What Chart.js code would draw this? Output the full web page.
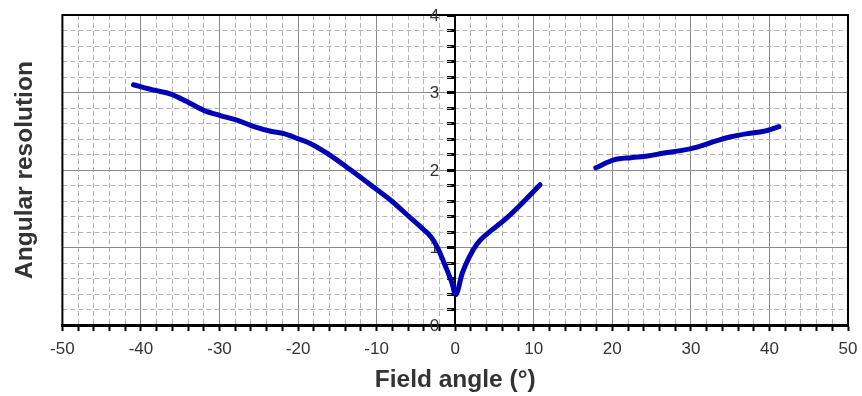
<!DOCTYPE html>
<html>
<head>
<meta charset="utf-8">
<script src="https://cdn.jsdelivr.net/npm/chart.js@4.4.1/dist/chart.umd.min.js"></script>
<style>
  html, body { margin: 0; padding: 0; background: #ffffff; }
  #wrap { width: 862px; height: 396px; position: relative; }
</style>
</head>
<body>
<div id="wrap"><canvas id="c" width="862" height="396"></canvas></div>
<script>
// ---- data ----
const fieldAngle = [-40.95, -38.3, -36.2, -34.1, -32.0, -29.8, -27.7, -25.6, -23.5, -21.8, -19.9, -18.4, -15.9, -13.3, -10.8, -8.2, -6.1, -4.0, -3.1, -2.3, -1.2, -0.4, 0.05, 0.9, 1.8, 2.8, 4.1, 6.2, 8.3, 10.8, 14.0, 17.9, 20.2, 22.4, 24.5, 26.6, 28.7, 30.9, 33.0, 35.1, 37.2, 39.3, 41.2];
const angularResolution = [3.10, 3.03, 2.98, 2.88, 2.77, 2.70, 2.64, 2.56, 2.50, 2.47, 2.40, 2.34, 2.19, 2.00, 1.81, 1.61, 1.42, 1.23, 1.14, 1.01, 0.75, 0.54, 0.39, 0.67, 0.88, 1.05, 1.18, 1.35, 1.55, 1.81, null, 2.03, 2.13, 2.16, 2.18, 2.22, 2.25, 2.30, 2.37, 2.43, 2.47, 2.50, 2.56];
const xTickLabels = ['-50', '-40', '-30', '-20', '-10', '0', '10', '20', '30', '40', '50'];
const yTickValues = [0, 1, 2, 3, 4];
const yTickLabels = ['0', '1', '2', '3', '4'];
const xTitle = 'Field angle (°)';
const yTitle = 'Angular resolution';

const X_MIN = -50, X_MAX = 50, Y_MIN = 0, Y_MAX = 4;
const FONT = "'Liberation Sans', Arial, Helvetica, sans-serif";
const isMult = (v, m) => Math.abs(v / m - Math.round(v / m)) < 1e-6;

const points = fieldAngle.map((x, i) => ({ x: x, y: angularResolution[i] }));

const framePlugin = {
  id: 'frame',
  beforeDatasetsDraw(chart) {
    const { ctx, chartArea: a, scales } = chart;
    ctx.save();
    ctx.strokeStyle = '#000';
    ctx.lineWidth = 2;
    ctx.strokeRect(a.left, a.top, a.right - a.left, a.bottom - a.top);
    // y tick labels beside the centred y axis
    const x0 = scales.x.getPixelForValue(0);
    ctx.fillStyle = '#333';
    ctx.font = "17px " + FONT;
    ctx.textAlign = 'right';
    ctx.textBaseline = 'middle';
    yTickValues.forEach((v, i) => {
      ctx.fillText(yTickLabels[i], x0 - 16, scales.y.getPixelForValue(v) + 1);
    });
    ctx.restore();
  }
};

new Chart(document.getElementById('c'), {
  type: 'line',
  data: {
    datasets: [{
      data: points,
      borderColor: '#0000B4',
      borderWidth: 5,
      pointRadius: 0,
      cubicInterpolationMode: 'monotone',
      spanGaps: false,
      borderCapStyle: 'round',
      borderJoinStyle: 'round',
      fill: false
    }]
  },
  plugins: [framePlugin],
  options: {
    responsive: false,
    animation: false,
    devicePixelRatio: 1,
    layout: { padding: { left: 11, right: 14, top: 15, bottom: 2 } },
    plugins: { legend: { display: false }, tooltip: { enabled: false } },
    scales: {
      x: {
        type: 'linear', position: 'bottom', min: X_MIN, max: X_MAX,
        ticks: {
          stepSize: 2, autoSkip: false, maxRotation: 0, padding: 2,
          color: '#333', font: { family: FONT, size: 17, lineHeight: 1.88 },
          callback: (v) => isMult(v, 10) ? xTickLabels[Math.round((v - X_MIN) / 10)] : ''
        },
        grid: {
          color: (c) => (c.tick && isMult(c.tick.value, 10) && c.tick.value !== 0) ? '#8a8a8a' : 'rgba(0,0,0,0)',
          lineWidth: 1, drawTicks: true, tickLength: 6, tickWidth: 2, tickColor: '#000'
        },
        border: { display: true, color: '#000', width: 3 },
        title: {
          display: true, text: xTitle, color: '#333',
          font: { family: FONT, size: 24.5, weight: 'bold', lineHeight: 1.1 },
          padding: { top: 0, bottom: 0 }
        }
      },
      xMinor: {
        type: 'linear', position: { y: Y_MAX }, min: X_MIN, max: X_MAX,
        ticks: { display: false, stepSize: 2, autoSkip: false },
        grid: {
          color: (c) => (c.tick && !isMult(c.tick.value, 10)) ? '#b4b4b4' : 'rgba(0,0,0,0)',
          lineWidth: 1, drawTicks: false, tickLength: 0
        },
        border: { display: false, dash: [5, 3] }
      },
      y: {
        type: 'linear', position: { x: 0 }, min: Y_MIN, max: Y_MAX,
        ticks: { display: false, stepSize: 0.2, autoSkip: false },
        grid: {
          color: (c) => (c.tick && isMult(c.tick.value, 1) && c.tick.value > 0 && c.tick.value < 4) ? '#8a8a8a' : 'rgba(0,0,0,0)',
          lineWidth: 1, drawTicks: true, tickLength: 7, tickWidth: 3, tickColor: '#000'
        },
        border: { display: true, color: '#000', width: 2 }
      },
      yMinor: {
        type: 'linear', position: { x: X_MAX }, min: Y_MIN, max: Y_MAX,
        ticks: { display: false, stepSize: 0.2, autoSkip: false },
        grid: {
          color: (c) => (c.tick && !isMult(c.tick.value, 1)) ? '#b4b4b4' : 'rgba(0,0,0,0)',
          lineWidth: 1, drawTicks: false, tickLength: 0
        },
        border: { display: false, dash: [5, 3] }
      },
      yTitleAxis: {
        type: 'linear', position: 'left', min: Y_MIN, max: Y_MAX,
        ticks: { display: false },
        grid: { display: false, drawTicks: false, tickLength: 0 },
        border: { display: false },
        title: {
          display: true, text: yTitle, color: '#333',
          font: { family: FONT, size: 24.5, weight: 'bold' },
          padding: { top: 0, bottom: 22 }
        }
      }
    }
  }
});
</script>
</body>
</html>
